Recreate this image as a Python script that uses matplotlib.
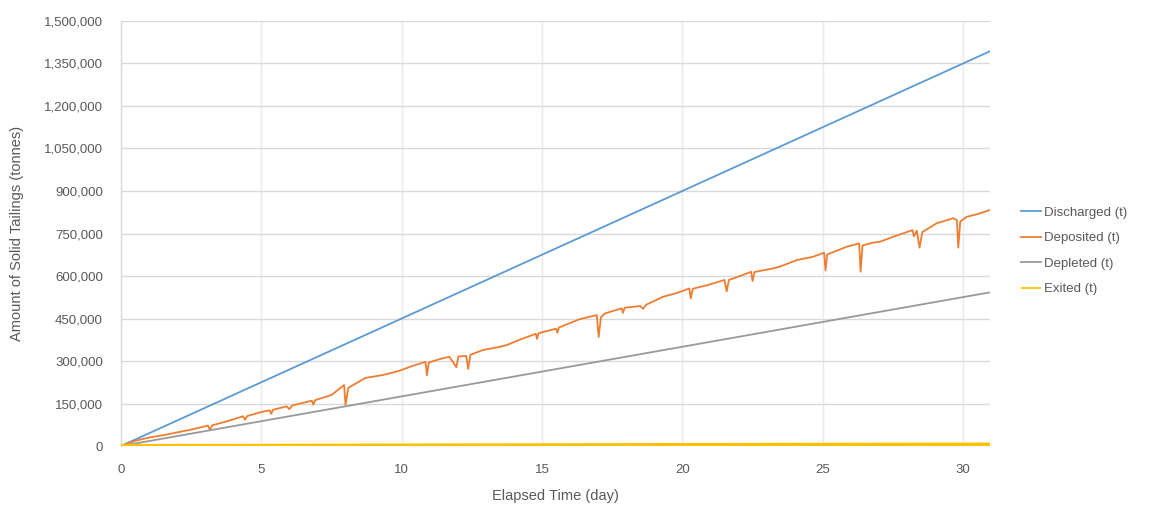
import matplotlib
matplotlib.use("Agg")
import matplotlib.pyplot as plt
from matplotlib.ticker import FuncFormatter, MultipleLocator

# Cumulative solid tailings over the elapsed time (days)
discharged_days = [0.0, 31.0]
discharged_t = [0, 1395000]

depleted_days = [0.0, 31.0]
depleted_t = [0, 543000]

exited_days = [0.0, 31.0]
exited_t = [0, 5000]

deposited_days = [
    0.0, 0.5, 1.0, 1.5, 2.0, 2.5, 3.1, 3.17, 3.25, 3.8, 4.35, 4.42, 4.5,
    5.0, 5.3, 5.35, 5.42, 5.9, 6.0, 6.1, 6.8, 6.85, 6.92, 7.5, 7.95, 8.0,
    8.1, 8.7, 9.35, 9.9, 10.4, 10.85, 10.9, 10.97, 11.4, 11.7, 11.95, 12.02,
    12.3, 12.37, 12.45, 12.9, 13.4, 13.74, 14.2, 14.78, 14.82, 14.88, 15.5,
    15.55, 15.6, 16.35, 16.95, 17.02, 17.1, 17.25, 17.84, 17.88, 17.95, 18.5,
    18.6, 18.7, 19.32, 19.8, 20.25, 20.3, 20.37, 20.9, 21.5, 21.58, 21.66,
    22.0, 22.45, 22.5, 22.57, 23.24, 23.5, 24.07, 24.66, 25.05, 25.1, 25.16,
    25.85, 26.3, 26.35, 26.42, 26.8, 27.04, 27.5, 28.2, 28.25, 28.35, 28.45,
    28.55, 29.06, 29.65, 29.78, 29.83, 29.9, 30.13, 30.5, 30.96,
]
deposited_t = [
    0, 18000, 30000, 38000, 48000, 58000, 72000, 56000, 73000, 88000, 105000,
    93000, 106000, 120000, 126000, 114000, 128000, 140000, 130000, 143000,
    160000, 146000, 162000, 180000, 215000, 145000, 205000, 240000, 251000,
    265000, 283000, 297000, 250000, 295000, 308000, 315000, 278000, 316000,
    318000, 272000, 322000, 339000, 348000, 356000, 375000, 396000, 378000,
    398000, 414000, 400000, 418000, 448000, 462000, 385000, 455000, 468000,
    486000, 470000, 488000, 494000, 484000, 498000, 527000, 540000, 556000,
    521000, 555000, 568000, 586000, 546000, 586000, 598000, 615000, 582000,
    614000, 627000, 634000, 656000, 668000, 682000, 620000, 676000, 703000,
    715000, 615000, 708000, 718000, 721000, 738000, 762000, 740000, 760000,
    700000, 755000, 786000, 804000, 797000, 700000, 792000, 809000, 818000,
    833000,
]

series_labels = ["Discharged (t)", "Deposited (t)", "Depleted (t)", "Exited (t)"]
series_colors = ["#5B9BD5", "#ED7D31", "#999999", "#FFC000"]

x_ticks = [0, 5, 10, 15, 20, 25, 30]

text_color = "#595959"
grid_color = "#D9D9D9"
vgrid_color = "#EAEAEA"

plt.rcParams["font.family"] = ["Liberation Sans", "DejaVu Sans"]

fig = plt.figure(figsize=(11.72, 5.08), dpi=100)
ax = fig.add_axes([0.1032, 0.122, 0.7415, 0.8367])

ax.plot(discharged_days, discharged_t, color=series_colors[0], lw=1.3,
        label=series_labels[0], zorder=3)
ax.plot(deposited_days, deposited_t, color=series_colors[1], lw=1.3,
        label=series_labels[1], zorder=3)
ax.plot(depleted_days, depleted_t, color=series_colors[2], lw=1.3,
        label=series_labels[2], zorder=3)
ax.plot(exited_days, exited_t, color=series_colors[3], lw=3.0,
        label=series_labels[3], zorder=4, solid_capstyle="butt")

ax.set_xlim(0, 30.96)
ax.set_ylim(0, 1500000)
ax.set_xticks(x_ticks)
ax.yaxis.set_major_locator(MultipleLocator(150000))
ax.yaxis.set_major_formatter(FuncFormatter(lambda v, p: f"{int(v):,}"))

ax.grid(True, axis="y", color=grid_color, lw=1.0, zorder=0)
ax.grid(True, axis="x", color=vgrid_color, lw=1.0, zorder=0)
ax.set_axisbelow(True)
for side in ["top", "right", "bottom"]:
    ax.spines[side].set_visible(False)
ax.spines["left"].set_color(grid_color)
ax.spines["left"].set_linewidth(1.0)

ax.tick_params(axis="both", length=0, colors=text_color, labelsize=9.5)
ax.tick_params(axis="x", pad=13)
ax.tick_params(axis="y", pad=13)

ax.set_xlabel("Elapsed Time (day)", color=text_color, fontsize=10.5, labelpad=9)
ax.set_ylabel("Amount of Solid Tailings (tonnes)", color=text_color,
              fontsize=10.5, labelpad=14)

leg = fig.legend(loc="center left", bbox_to_anchor=(0.861, 0.506),
                 frameon=False, fontsize=9.5, handlelength=1.5,
                 handletextpad=0.25, labelspacing=1.0)
for t in leg.get_texts():
    t.set_color(text_color)
for h in leg.get_lines():
    h.set_linewidth(1.3)

fig.savefig("out.png", dpi=100)
